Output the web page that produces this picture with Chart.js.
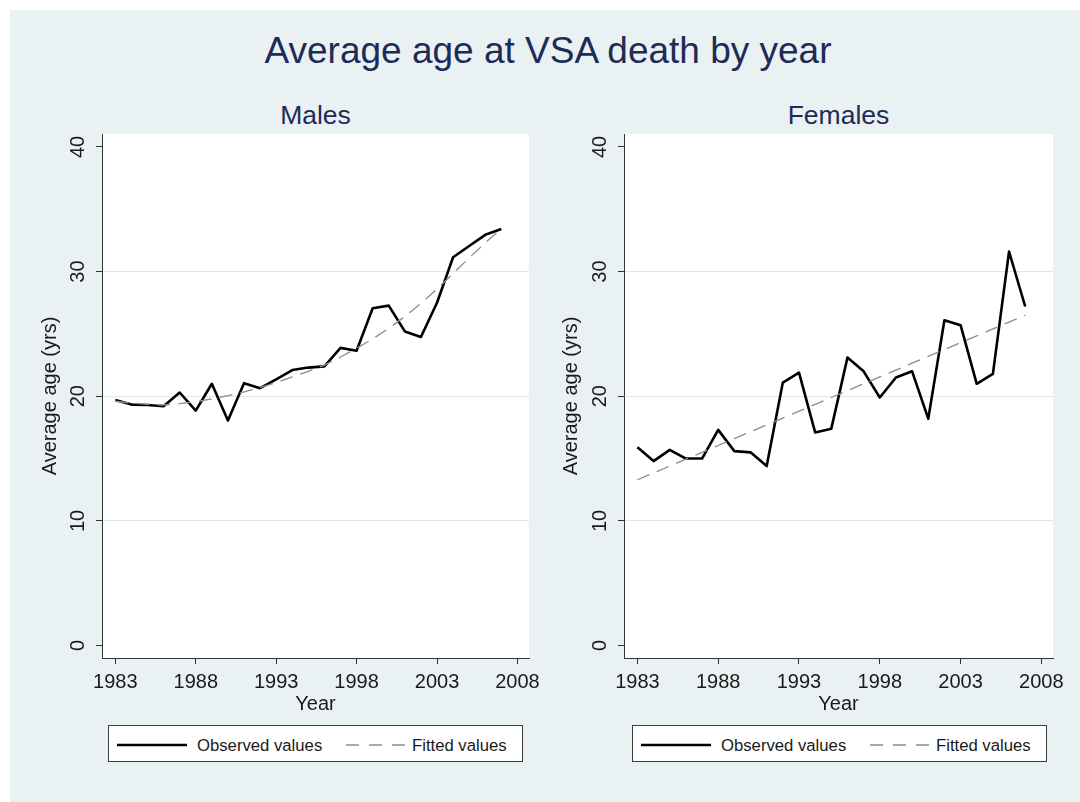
<!DOCTYPE html>
<html>
<head>
<meta charset="utf-8">
<script src="https://cdn.jsdelivr.net/npm/chart.js@4.4.0/dist/chart.umd.min.js"></script>
<style>
html,body{margin:0;padding:0;background:#ffffff;}
#page{position:relative;width:1080px;height:802px;overflow:hidden;font-family:"Liberation Sans",Arial,sans-serif;}
#bg{position:absolute;left:10px;top:10px;width:1070px;height:792px;background:#EAF1F3;}
.t{position:absolute;white-space:nowrap;line-height:1;color:#1D2C57;transform:translateX(-50%);}
canvas{position:absolute;}
.legend{position:absolute;top:725px;width:413px;height:35px;border:1px solid #3c3c3c;background:#ffffff;}
.legend svg{position:absolute;left:0;top:0;}
.legend span{position:absolute;top:12.4px;font-size:16.7px;line-height:1;color:#1a1a1a;white-space:nowrap;}
</style>
</head>
<body>
<div id="page">
  <div id="bg"></div>
  <div class="t" id="mainTitle" style="left:548px;top:31.7px;font-size:37px;"></div>
  <div class="t" id="sub0" style="left:315.5px;top:101.6px;font-size:26.5px;"></div>
  <div class="t" id="sub1" style="left:838.5px;top:101.6px;font-size:26.5px;"></div>
  <canvas id="cMale" width="545" height="600" style="left:0px;top:120px;"></canvas>
  <canvas id="cFemale" width="559" height="600" style="left:521px;top:120px;"></canvas>
  <div class="legend" id="leg0" style="left:108px;"></div>
  <div class="legend" id="leg1" style="left:632px;"></div>
</div>
<script>
// ---- data ----
const chartTitle = "Average age at VSA death by year";
const panelTitles = ["Males", "Females"];
const seriesNames = ["Observed values", "Fitted values"];
const xAxisTitle = "Year";
const yAxisTitle = "Average age (yrs)";

const years = [1983,1984,1985,1986,1987,1988,1989,1990,1991,1992,1993,1994,1995,
               1996,1997,1998,1999,2000,2001,2002,2003,2004,2005,2006,2007];

const maleObserved = [19.7,19.33,19.3,19.2,20.3,18.85,21.0,18.05,21.05,20.65,21.35,22.1,22.3,
                      22.4,23.88,23.65,27.06,27.27,25.2,24.75,27.5,31.15,32.05,32.95,33.42];
const maleFitted   = [19.6,19.45,19.35,19.3,19.4,19.55,19.8,20.05,20.35,20.7,21.1,21.55,22.0,
                      22.5,23.15,23.85,24.6,25.45,26.4,27.45,28.6,29.85,31.1,32.3,33.45];

const femaleObserved = [15.9,14.8,15.7,15.0,15.0,17.3,15.6,15.5,14.4,21.1,21.9,17.1,17.4,
                        23.1,22.0,19.9,21.5,22.0,18.2,26.1,25.7,21.0,21.8,31.6,27.2];
const femaleFitted   = [13.3,13.85,14.4,14.95,15.5,16.05,16.6,17.15,17.7,18.25,18.8,19.35,19.9,
                        20.45,21.0,21.55,22.1,22.65,23.2,23.75,24.3,24.85,25.4,25.95,26.5];

const xTickYears = [1983,1988,1993,1998,2003,2008];
const yTickValues = [0,10,20,30,40];
const gridValues = [10,20,30];
const xRange = [1982.17, 2008.72];
const yRange = [-1.0, 41.04];

// ---- text ----
document.getElementById('mainTitle').textContent = chartTitle;
document.getElementById('sub0').textContent = panelTitles[0];
document.getElementById('sub1').textContent = panelTitles[1];

function buildLegend(id) {
  const el = document.getElementById(id);
  el.innerHTML =
    '<svg width="413" height="35">' +
    '<line x1="8" y1="19" x2="78" y2="19" stroke="#000" stroke-width="2.5"/>' +
    '<line x1="237" y1="19" x2="296" y2="19" stroke="#8c8c8c" stroke-width="1.3" stroke-dasharray="13 10"/>' +
    '</svg>';
  const s1 = document.createElement('span'); s1.style.left = '88px'; s1.textContent = seriesNames[0];
  const s2 = document.createElement('span'); s2.style.left = '303px'; s2.textContent = seriesNames[1];
  el.appendChild(s1); el.appendChild(s2);
}
buildLegend('leg0');
buildLegend('leg1');

// ---- charts ----
const FONT = "'Liberation Sans', Arial, sans-serif";
const plotBg = {
  id: 'plotBg',
  beforeDraw(chart) {
    const {ctx, chartArea: a} = chart;
    ctx.save();
    ctx.fillStyle = '#ffffff';
    ctx.fillRect(a.left, a.top, a.right - a.left, a.bottom - a.top);
    ctx.restore();
  }
};

function makeChart(canvasId, observed, fitted, yAxisWidth, rightPad) {
  const obsPts = years.map((x, i) => ({x: x, y: observed[i]}));
  const fitPts = years.map((x, i) => ({x: x, y: fitted[i]}));
  return new Chart(document.getElementById(canvasId), {
    type: 'line',
    data: {
      datasets: [
        {label: seriesNames[1], data: fitPts, borderColor: '#8c8c8c', borderWidth: 1.3,
         borderDash: [13, 8], pointRadius: 0, tension: 0, fill: false, order: 0},
        {label: seriesNames[0], data: obsPts, borderColor: '#000000', borderWidth: 2.6,
         pointRadius: 0, tension: 0, fill: false, order: 1, borderJoinStyle: 'round'}
      ]
    },
    options: {
      responsive: false,
      animation: false,
      devicePixelRatio: 1,
      layout: {padding: {left: 0, top: 14, right: rightPad, bottom: 0}},
      plugins: {legend: {display: false}, tooltip: {enabled: false}, title: {display: false}},
      scales: {
        x: {
          type: 'linear',
          min: xRange[0], max: xRange[1],
          afterBuildTicks: (s) => { s.ticks = xTickYears.map(v => ({value: v})); },
          afterFit: (s) => { s.height = 62; s.paddingLeft = 0; s.paddingRight = 0; },
          ticks: {
            callback: (v) => String(v),
            font: {family: FONT, size: 20},
            color: '#1a1a1a',
            padding: 6,
            maxRotation: 0, minRotation: 0,
            autoSkip: false
          },
          grid: {drawOnChartArea: false, drawTicks: true, tickLength: 6, tickColor: '#333333', tickWidth: 1},
          border: {display: true, color: '#333333', width: 1},
          title: {display: true, text: xAxisTitle, font: {family: FONT, size: 20}, color: '#1a1a1a',
                  padding: {top: 0, bottom: 4}}
        },
        y: {
          type: 'linear',
          min: yRange[0], max: yRange[1],
          afterBuildTicks: (s) => { s.ticks = yTickValues.map(v => ({value: v})); },
          afterFit: (s) => { s.width = yAxisWidth; s.paddingTop = 0; s.paddingBottom = 0; },
          ticks: {
            callback: (v) => String(v),
            font: {family: FONT, size: 20},
            color: '#1a1a1a',
            padding: 6,
            minRotation: 90, maxRotation: 90,
            crossAlign: 'center',
            autoSkip: false
          },
          grid: {
            drawOnChartArea: true, drawTicks: true, tickLength: 6, tickColor: '#333333', tickWidth: 1,
            lineWidth: 1,
            color: (c) => (c.tick && gridValues.includes(c.tick.value)) ? '#DDE7EB' : 'rgba(0,0,0,0)'
          },
          border: {display: true, color: '#333333', width: 1},
          title: {display: true, text: yAxisTitle, font: {family: FONT, size: 20}, color: '#1a1a1a',
                  padding: {top: 38, bottom: 0}}
        }
      }
    },
    plugins: [plotBg]
  });
}

makeChart('cMale', maleObserved, maleFitted, 102, 16);
makeChart('cFemale', femaleObserved, femaleFitted, 103, 27);
</script>
</body>
</html>
